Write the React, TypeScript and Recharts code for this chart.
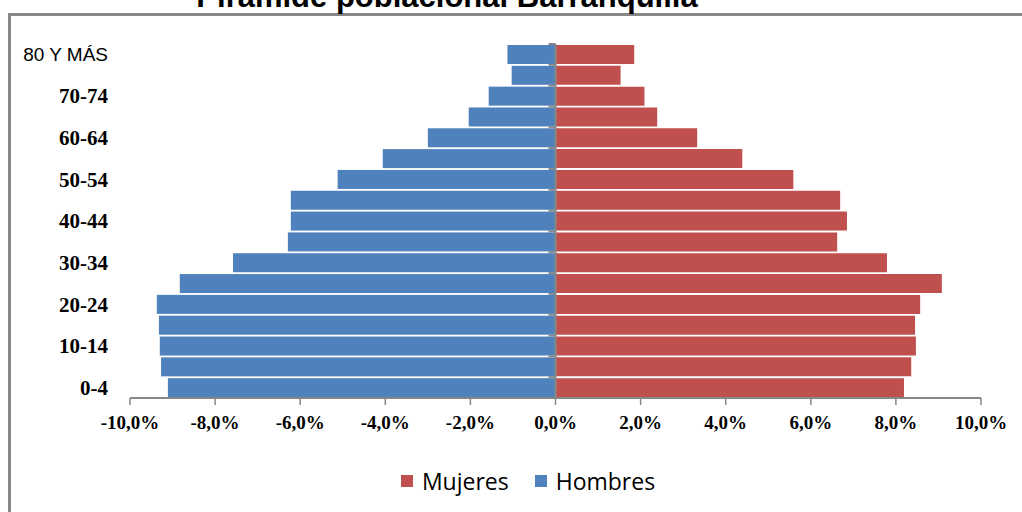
import React from "react";
import { BarChart, Bar, XAxis, YAxis, ReferenceLine } from "recharts";

const ageGroups = ["80 Y MÁS", "75-79", "70-74", "65-69", "60-64", "55-59", "50-54", "45-49", "40-44", "35-39", "30-34", "25-29", "20-24", "15-19", "10-14", "5-9", "0-4"];
const hombres = [1.13, 1.03, 1.57, 2.04, 3.0, 4.06, 5.12, 6.22, 6.22, 6.29, 7.58, 8.83, 9.37, 9.32, 9.3, 9.27, 9.11];
const mujeres = [1.85, 1.53, 2.09, 2.39, 3.33, 4.39, 5.59, 6.69, 6.85, 6.62, 7.79, 9.08, 8.57, 8.45, 8.47, 8.36, 8.19];
const xTicks = [-10, -8, -6, -4, -2, 0, 2, 4, 6, 8, 10];
const title = "Pirámide poblacional Barranquilla";
const seriesNames = { mujeres: "Mujeres", hombres: "Hombres" };
const colors = { mujeres: "#C0504D", hombres: "#4F81BD" };

const data = ageGroups.map((age, i) => ({ age, hombres: -hombres[i], mujeres: mujeres[i] }));

const fmt = (v: number) => `${v.toFixed(1).replace(".", ",")}%`;

const YTick = (props: any) => {
  const { x, y, payload } = props;
  const isSans = payload.value === "80 Y MÁS";
  return (
    <text
      x={x}
      y={y}
      dy="0.35em"
      textAnchor="end"
      fill="#000"
      fontFamily={isSans ? "'Liberation Sans Narrow', 'Liberation Sans', sans-serif" : "'Liberation Serif', serif"}
      fontWeight={isSans ? "normal" : "bold"}
      fontSize={isSans ? 19 : 21}
    >
      {payload.value}
    </text>
  );
};

const MenShape = (props: any) => {
  const { x, y, width, height, fill } = props;
  const left = Math.min(x, x + width);
  const w = Math.abs(width);
  const zeroX = left + w;
  return (
    <g>
      <rect x={left} y={y} width={w} height={height} fill={fill} />
      <line x1={zeroX - 7} x2={zeroX} y1={y - 1} y2={y - 1} stroke="#878787" strokeWidth={2} />
    </g>
  );
};

export default function App() {
  return (
    <div style={{ position: "fixed", left: 0, top: 0, width: 1022, height: 512, overflow: "hidden", background: "#fff" }}>
      <div style={{ position: "absolute", left: 8, top: 13, width: 1100, height: 600, border: "3px solid #878787", boxSizing: "border-box" }} />
      <svg width={1022} height={20} style={{ position: "absolute", left: 0, top: 0 }}>
        <text x={447} y={7} textAnchor="middle" fontFamily="'Liberation Sans', Arial, sans-serif" fontWeight="bold" fontSize={31} fill="#000">
          {title}
        </text>
      </svg>
      <div style={{ position: "absolute", left: 0, top: 0 }}>
        <BarChart
          width={1022}
          height={512}
          data={data}
          layout="vertical"
          stackOffset="sign"
          barCategoryGap={1}
          margin={{ top: 44, right: 41, bottom: 74, left: 0 }}
        >
          <XAxis
            type="number"
            domain={[-10, 10]}
            ticks={xTicks}
            allowDataOverflow
            tickFormatter={fmt}
            height={40}
            tickSize={7}
            tickMargin={11}
            axisLine={{ stroke: "#878787", strokeWidth: 2 }}
            tickLine={{ stroke: "#878787", strokeWidth: 1.5 }}
            tick={{ fill: "#000", fontFamily: "'Liberation Serif', serif", fontWeight: "bold", fontSize: 19 }}
          />
          <YAxis
            type="category"
            dataKey="age"
            width={130}
            interval={1}
            axisLine={false}
            tickLine={false}
            tickSize={0}
            tickMargin={22}
            tick={<YTick />}
          />
          <Bar dataKey="mujeres" name={seriesNames.mujeres} stackId="a" fill={colors.mujeres} isAnimationActive={false} />
          <Bar dataKey="hombres" name={seriesNames.hombres} stackId="a" fill={colors.hombres} isAnimationActive={false} shape={<MenShape />} />
          <ReferenceLine x={0} stroke="#878787" strokeWidth={2} />
        </BarChart>
      </div>
      <div
        style={{
          position: "absolute",
          top: 465,
          left: 0,
          width: 1056,
          display: "flex",
          justifyContent: "center",
          alignItems: "center",
          fontFamily: "'Open Sans', sans-serif",
          fontSize: 23,
          color: "#000",
        }}
      >
        {(["mujeres", "hombres"] as const).map((k, i) => (
          <div key={k} style={{ display: "flex", alignItems: "center", marginLeft: i === 0 ? 0 : 26 }}>
            <span style={{ display: "inline-block", width: 12, height: 12, background: colors[k], marginRight: 9 }} />
            <span>{seriesNames[k]}</span>
          </div>
        ))}
      </div>
    </div>
  );
}
